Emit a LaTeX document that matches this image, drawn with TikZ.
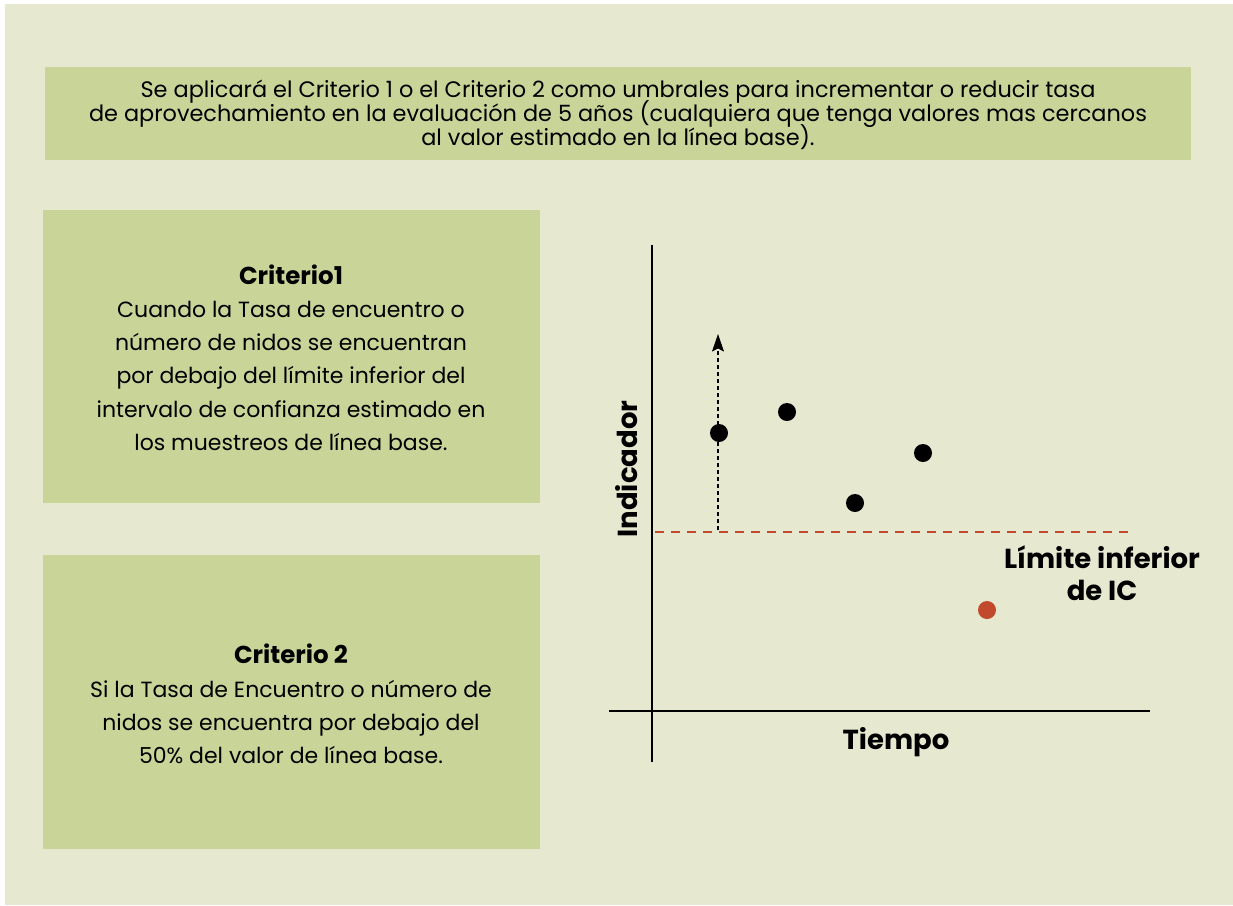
\documentclass[tikz,border=0pt]{standalone}
\usepackage{fontspec}
\setmainfont{Poppins}
\usetikzlibrary{arrows.meta}
\definecolor{bgc}{HTML}{E6E8D0}
\definecolor{boxc}{HTML}{C9D499}
\definecolor{redc}{HTML}{C1492C}
\newcommand{\headfont}{\fontsize{24.5}{33.2}\selectfont\bfseries}
\newcommand{\tightlines}{\lineskiplimit=-100pt\relax\lineskip=0pt\relax}
\tikzset{
  panel/.style={fill=boxc, draw=none},
  body/.style={align=center, font=\fontsize{22}{33.2}\selectfont, inner sep=0pt},
  topbody/.style={align=center, font=\fontsize{22.4}{24}\selectfont\tightlines, inner sep=0pt},
  lbl/.style={font=\fontsize{27.5}{32}\selectfont\bfseries, inner sep=0pt, align=center},
  axis/.style={line width=2.4pt, draw=black},
  dot/.style={circle, fill=black, minimum size=18pt, inner sep=0pt},
  reddot/.style={circle, fill=redc, minimum size=18pt, inner sep=0pt},
  limit/.style={draw=redc, line width=1.8pt, dash pattern=on 9pt off 7pt},
  growth/.style={draw=black, line width=1.3pt, dash pattern=on 4pt off 3pt},
  growthtip/.style={fill=black, draw=black, line width=0.6pt, line join=miter}
}
\begin{document}
\begin{tikzpicture}[x=1pt,y=-1pt]
\useasboundingbox (0,0) rectangle (1233,905);
\fill[bgc] (5,4) rectangle (1233,905);
% top banner
\fill[panel] (45,67) rectangle (1191,160);
\node[topbody] (intro) at (618,114.5) {Se aplicará el Criterio 1 o el Criterio 2 como umbrales para incrementar o reducir tasa\\de aprovechamiento en la evaluación de 5 años (cualquiera que tenga valores mas cercanos\\al valor estimado en la línea base).};
% criterio boxes
\fill[panel] (43,210) rectangle (540,503);
\node[body] (c1) at (291,357.5) {{\headfont Criterio1}\\Cuando la Tasa de encuentro o\\número de nidos se encuentran\\por debajo del límite inferior del\\intervalo de confianza estimado en\\los muestreos de línea base.};
\fill[panel] (43,555) rectangle (540,849);
\node[body] (c2) at (291,704) {{\headfont Criterio 2}\\Si la Tasa de Encuentro o número de\\nidos se encuentra por debajo del\\50\% del valor de línea base.};
% axes
\coordinate (ytop) at (652,245);
\coordinate (ybot) at (652,762);
\coordinate (xl) at (609,711);
\coordinate (xr) at (1150,711);
\draw[axis] (ytop) -- (ybot);
\draw[axis] (xl) -- (xr);
\node[lbl, rotate=90] (ind) at (627,469) {Indicador};
\node[lbl] (tiempo) at (896,742) {Tiempo};
% limit line
\coordinate (ll) at (655,532);
\coordinate (lr) at (1130,532);
\draw[limit] (ll) -- (lr);
\node[lbl] (lim) at (1102,573) {Límite inferior\\de IC};
% arrow
\coordinate (as) at (718,530);
\coordinate (ab) at (718,348);
\coordinate (ae) at (718,335);
\coordinate (tl) at (712.5,351);
\coordinate (tr) at (723.5,351);
\draw[growth] (as) -- (ab);
\filldraw[growthtip] (ae) -- (tr) -- (ab) -- (tl) -- cycle;
% dots
\node[dot] (d1) at (719,433) {};
\node[dot] (d2) at (787,412) {};
\node[dot] (d3) at (855,503) {};
\node[dot] (d4) at (923,453) {};
\node[reddot] (d5) at (987,610) {};
\end{tikzpicture}
\end{document}
